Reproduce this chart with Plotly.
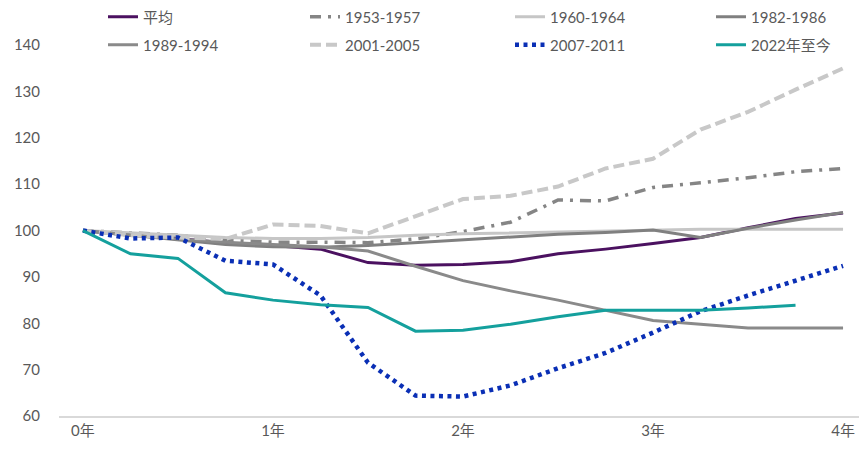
import plotly.graph_objects as go

# Quarterly horizon, in years from the start of each cycle
quarters = [0, 0.25, 0.5, 0.75, 1, 1.25, 1.5, 1.75, 2, 2.25, 2.5, 2.75, 3, 3.25, 3.5, 3.75, 4]

avg = [100, 99.0, 98.3, 97.3, 96.8, 96.0, 93.1, 92.5, 92.7, 93.3, 95.0, 96.0, 97.2, 98.5, 100.6, 102.6, 103.8]
c1953 = [100, 99.5, 99.0, 98.0, 97.5, 97.5, 97.4, 98.2, 99.8, 101.8, 106.6, 106.4, 109.3, 110.3, 111.4, 112.7, 113.4]
c1960 = [100, 99.5, 99.0, 98.5, 98.3, 98.3, 98.5, 99.0, 99.3, 99.5, 99.8, 100.0, 100.2, 100.3, 100.3, 100.3, 100.3]
c1982 = [100, 99.0, 98.0, 97.0, 96.5, 96.4, 96.8, 97.4, 98.0, 98.5, 99.2, 99.6, 100.1, 98.5, 100.5, 102.3, 103.9]
c1989 = [100, 99.0, 98.2, 97.5, 97.0, 96.5, 95.6, 92.3, 89.2, 87.0, 85.0, 82.8, 80.6, 79.8, 79.0, 79.0, 79.0]
c2001 = [100, 99.0, 98.5, 98.2, 101.3, 101.0, 99.4, 103.2, 106.8, 107.5, 109.5, 113.4, 115.5, 121.8, 125.6, 130.4, 135.0]
c2007 = [100, 98.3, 98.5, 93.5, 92.7, 86.0, 71.5, 64.4, 64.2, 66.6, 70.3, 73.6, 78.0, 82.6, 86.0, 89.2, 92.4]
c2022 = [100, 95.0, 94.0, 86.6, 85.0, 84.0, 83.4, 78.3, 78.5, 79.8, 81.4, 82.8, 82.8, 82.8, 83.3, 83.9]

year_ticks = [0, 1, 2, 3, 4]
year_labels = ["0年", "1年", "2年", "3年", "4年"]
y_ticks = [60, 70, 80, 90, 100, 110, 120, 130, 140]

FONT = "Lato, 'Noto Sans CJK SC', sans-serif"
TEXT = "#595959"
W, H = 859, 450

# name, values, colour, dash, width, legend slot (column, row)
series = [
    ("平均", avg, "#4b1160", "solid", 3, (0, 0)),
    ("1953-1957", c1953, "#858585", "11px,7px,3px,7px", 3.5, (1, 0)),
    ("1960-1964", c1960, "#c6c6c6", "solid", 3, (2, 0)),
    ("1982-1986", c1982, "#808080", "solid", 3, (3, 0)),
    ("1989-1994", c1989, "#8a8a8a", "solid", 3, (0, 1)),
    ("2001-2005", c2001, "#c8c8c8", "11px,5px", 4, (1, 1)),
    ("2007-2011", c2007, "#0a2fb5", "4px,4.5px", 4.5, (2, 1)),
    ("2022年至今", c2022, "#14a09d", "solid", 3, (3, 1)),
]

legend_cols = [103, 305, 510, 711]   # left edge of each legend column, px
legend_rows = [17, 45]               # vertical centre of each legend row, px

fig = go.Figure()
legend_layout = {}
for i, (name, vals, color, dash, width, (col, row)) in enumerate(series):
    key = "legend" if i == 0 else f"legend{i + 1}"
    fig.add_trace(go.Scatter(
        x=quarters[:len(vals)], y=vals, name=name, mode="lines",
        line=dict(color=color, dash=dash, width=width),
        legend=key,
    ))
    legend_layout[key] = dict(
        x=legend_cols[col] / W, y=1 - legend_rows[row] / H,
        xref="container", yref="container",
        xanchor="left", yanchor="middle", orientation="h",
        font=dict(family=FONT, size=15, color=TEXT),
        bgcolor="rgba(0,0,0,0)", borderwidth=0,
        itemclick=False, itemdoubleclick=False,
    )

fig.update_layout(
    width=W, height=H,
    margin=dict(l=59, r=0, t=22, b=34, autoexpand=False),
    paper_bgcolor="white", plot_bgcolor="white",
    font=dict(family=FONT, size=15, color=TEXT),
    showlegend=True,
    xaxis=dict(
        range=[-0.126, 4.084], tickvals=year_ticks, ticktext=year_labels,
        showgrid=False, zeroline=False, showline=True,
        linecolor="#d9d9d9", linewidth=2, ticks="",
        tickfont=dict(family=FONT, size=15, color=TEXT),
    ),
    yaxis=dict(
        range=[60, 145], tickvals=y_ticks,
        showgrid=False, zeroline=False, showline=False, ticks="",
        ticklabelstandoff=18,
        tickfont=dict(family=FONT, size=15, color=TEXT),
    ),
    **legend_layout,
)

fig.write_html("out.html")
